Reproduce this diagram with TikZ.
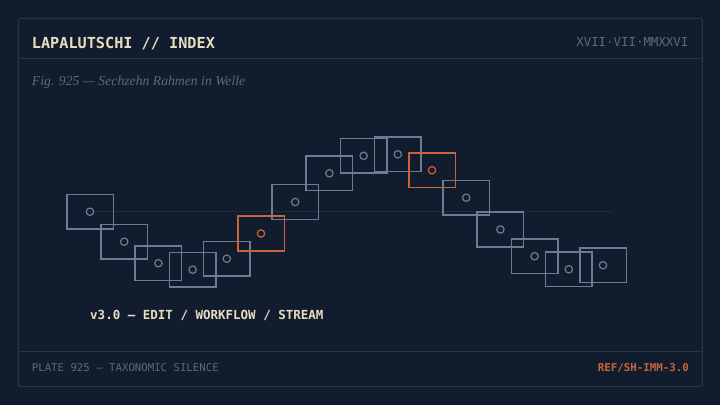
\documentclass[tikz,border=0pt]{standalone}
\usepackage{fontspec}
\setmonofont{DejaVu Sans Mono}
\newfontfamily\serifit{Liberation Serif}
\definecolor{bg}{HTML}{111C2E}
\definecolor{rule}{HTML}{29344A}
\definecolor{axis}{HTML}{1E2A3D}
\definecolor{cream}{HTML}{E8DCC0}
\definecolor{muted}{HTML}{5C687C}
\definecolor{frameg}{HTML}{6E7C92}
\definecolor{accent}{HTML}{C8643A}
\tikzset{
  wframe/.style={draw=frameg, line width=1.5pt, minimum width=46.5pt, minimum height=34.7pt, inner sep=0pt},
  hframe/.style={wframe, draw=accent},
  dot/.style={circle, draw=frameg, line width=1.2pt, minimum size=7.4pt, inner sep=0pt},
  hdot/.style={dot, draw=accent},
  txt/.style={inner sep=0pt, anchor=base west},
  rtxt/.style={inner sep=0pt, anchor=base east}
}
\begin{document}
\begin{tikzpicture}[x=1pt,y=-1pt]
\fill[bg] (0,0) rectangle (720,405);
\useasboundingbox (0,0) rectangle (720,405);
\draw[rule, line width=1pt, rounded corners=1.5pt] (18.3,18.3) rectangle (702.3,386.7);
\draw[rule, line width=1pt] (18.3,58.3) -- (702.3,58.3);
\draw[rule, line width=1pt] (18.3,351.3) -- (702.3,351.3);
\node[txt, text=cream, font=\ttfamily\bfseries\fontsize{15.2}{18}\selectfont] (title) at (31.7,48.3) {LAPALUTSCHI // INDEX};
\node[rtxt, text=muted, font=\ttfamily\fontsize{12.4}{15}\selectfont] (date) at (688.5,46.8) {XVII·VII·MMXXVI};
\node[txt, text=muted, font=\serifit\itshape\fontsize{13.7}{17}\selectfont] (fig) at (31.7,85.3) {Fig. 925 — Sechzehn Rahmen in Welle};
\coordinate (ax0) at (90,211.5);
\coordinate (ax1) at (612,211.5);
\draw[axis, line width=1pt] (ax0) -- (ax1);
\foreach \y [count=\i from 0] in {211.7,241.7,263.2,269.7,258.7,233.5,202,173.3,155.8,154.3,170.2,197.7,229.5,256.2,269.3,265.2} {
  \pgfmathsetmacro{\xx}{90+34.2*\i}
  \ifnum\i=5
    \node[hframe] (f\i) at (\xx,\y) {};
    \node[hdot] (c\i) at (f\i.center) {};
  \else\ifnum\i=10
    \node[hframe] (f\i) at (\xx,\y) {};
    \node[hdot] (c\i) at (f\i.center) {};
  \else
    \node[wframe] (f\i) at (\xx,\y) {};
    \node[dot] (c\i) at (f\i.center) {};
  \fi\fi
}
\node[txt, text=cream, font=\ttfamily\bfseries\fontsize{12.5}{15}\selectfont] (ver) at (90,319.3) {v3.0 — EDIT / WORKFLOW / STREAM};
\node[txt, text=muted, font=\ttfamily\fontsize{10.7}{13}\selectfont] (plate) at (31.7,371.5) {PLATE 925 — TAXONOMIC SILENCE};
\node[rtxt, text=accent, font=\ttfamily\bfseries\fontsize{10.8}{13}\selectfont] (ref) at (689,371.5) {REF/SH-IMM-3.0};
\end{tikzpicture}
\end{document}
